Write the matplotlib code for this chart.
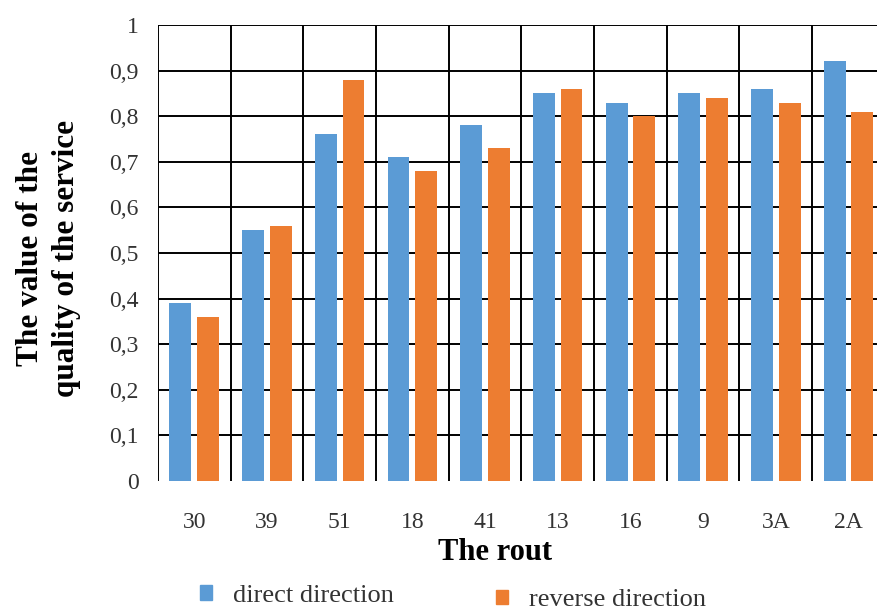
import numpy as np
import matplotlib.pyplot as plt
from matplotlib.ticker import FuncFormatter
from matplotlib.patches import Patch

routes = ['30', '39', '51', '18', '41', '13', '16', '9', '3A', '2A']
direct = [0.39, 0.55, 0.76, 0.71, 0.78, 0.85, 0.83, 0.85, 0.86, 0.92]
reverse = [0.36, 0.56, 0.88, 0.68, 0.73, 0.86, 0.80, 0.84, 0.83, 0.81]

BLUE = '#5B9BD5'
ORANGE = '#ED7D31'

plt.rcParams['font.family'] = ['Liberation Serif', 'DejaVu Serif']

fig = plt.figure(figsize=(8.77, 6.10), dpi=100)
ax = fig.add_axes([0.180, 0.2115, 0.829, 0.7475])

x = np.arange(len(routes))
w = 0.30
ax.bar(x - 0.19, direct, w, color=BLUE, zorder=3)
ax.bar(x + 0.19, reverse, w, color=ORANGE, zorder=3)

ax.set_xlim(-0.5, len(routes) - 0.5)
ax.set_ylim(0, 1)
ax.set_yticks(np.arange(0, 1.01, 0.1))
ax.yaxis.set_major_formatter(FuncFormatter(lambda v, p: ('%g' % round(v, 1)).replace('.', ',')))
ax.set_xticks(x)
ax.set_xticklabels(routes)

# grid: horizontal at each tick, vertical at category boundaries
for yv in np.arange(0.1, 1.01, 0.1):
    ax.axhline(yv, color='black', lw=1.4, zorder=1)
for xv in np.arange(-0.5, len(routes), 1.0):
    ax.axvline(xv, color='black', lw=1.4, zorder=1)

for s in ax.spines.values():
    s.set_visible(False)
ax.tick_params(axis='both', length=0, labelsize=17, colors='#333333')
ax.tick_params(axis='y', pad=14)
ax.tick_params(axis='x', pad=22)

fig.text(0.055, 0.577, 'The value of the\nquality of the service', rotation=90,
         ha='center', va='center', fontsize=22.5, fontweight='bold', linespacing=1.3)
fig.text(0.565, 0.094, 'The rout', ha='center', va='center', fontsize=22, fontweight='bold')

# legend entries sit at slightly different heights in the original
leg_kw = dict(frameon=False, fontsize=19, handlelength=0.45, handleheight=0.45,
              handletextpad=0.8, borderpad=0, borderaxespad=0, labelcolor='#333333',
              loc='center left')
fig.legend(handles=[Patch(color=BLUE, label='direct direction')],
           bbox_to_anchor=(0.228, 0.023), **leg_kw)
fig.legend(handles=[Patch(color=ORANGE, label='reverse direction')],
           bbox_to_anchor=(0.566, 0.016), **leg_kw)

fig.savefig('out.png', dpi=100)
